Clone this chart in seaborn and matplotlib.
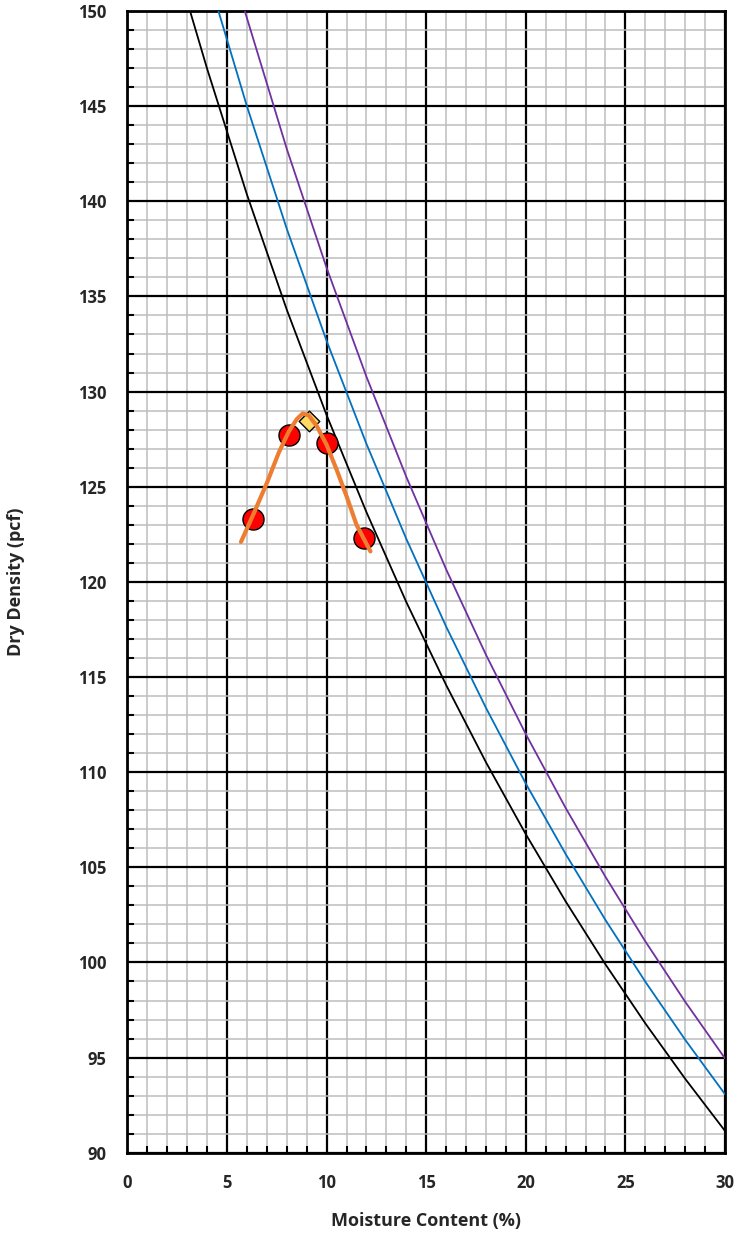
import matplotlib
matplotlib.use("Agg")
import matplotlib.pyplot as plt
from matplotlib.ticker import MultipleLocator
import seaborn as sns

# Zero-air-voids curves (dry density, pcf) at selected moisture contents (%)
zav_260_w = [3.0, 4, 6, 8, 10, 12, 14, 16, 18, 20, 22, 24, 26, 28, 30]
zav_260_d = [150.50, 146.96, 140.35, 134.30, 128.76, 123.66, 118.94, 114.58,
             110.52, 106.74, 103.21, 99.90, 96.80, 93.89, 91.15]

zav_270_w = [4.5, 6, 8, 10, 12, 14, 16, 18, 20, 22, 24, 26, 28, 30]
zav_270_d = [150.23, 144.99, 138.55, 132.66, 127.25, 122.26, 117.65, 113.38,
             109.40, 105.70, 102.23, 98.99, 95.94, 93.08]

zav_280_w = [5.8, 8, 10, 12, 14, 16, 18, 20, 22, 24, 26, 28, 30]
zav_280_d = [150.31, 142.75, 136.50, 130.78, 125.52, 120.66, 116.17, 112.00,
             108.12, 104.50, 101.11, 97.94, 94.96]

# Compaction test points
test_w = [6.3, 8.1, 10.0, 11.9]
test_d = [123.3, 127.7, 127.3, 122.3]

# Fitted compaction curve
fit_w = [5.7, 6.3, 7.0, 7.6, 8.1, 8.5, 8.8, 9.1, 9.5, 10.0, 10.5, 11.0, 11.5, 12.2]
fit_d = [122.1, 123.5, 125.2, 126.8, 127.9, 128.55, 128.85, 128.75, 128.2,
         127.2, 125.9, 124.5, 123.0, 121.6]

# Maximum dry density / optimum moisture
opt_w = [9.1]
opt_d = [128.45]

sns.set_style("white")
plt.rcParams["font.family"] = ["Open Sans", "DejaVu Sans"]

fig = plt.figure(figsize=(7.36, 12.35), dpi=100)
ax = fig.add_axes([0.1732, 0.0666, 0.8118, 0.9245])

ax.set_xlim(0, 30)
ax.set_ylim(90, 150)
ax.xaxis.set_major_locator(MultipleLocator(5))
ax.xaxis.set_minor_locator(MultipleLocator(1))
ax.yaxis.set_major_locator(MultipleLocator(5))
ax.yaxis.set_minor_locator(MultipleLocator(1))
ax.grid(which="minor", color="#BDBDBD", linewidth=1.1, zorder=0)
ax.grid(which="major", color="black", linewidth=1.6, zorder=0.5)
ax.set_axisbelow(True)

curves = [
    (zav_260_w, zav_260_d, "black"),
    (zav_270_w, zav_270_d, "#0070C0"),
    (zav_280_w, zav_280_d, "#7030A0"),
]
for w, d, c in curves:
    sns.lineplot(x=w, y=d, ax=ax, color=c, linewidth=1.3, sort=False,
                 estimator=None, zorder=3)

sns.lineplot(x=fit_w, y=fit_d, ax=ax, color="#ED7D31", linewidth=3.0,
             sort=False, estimator=None, zorder=5)
sns.scatterplot(x=test_w, y=test_d, ax=ax, color="#FF0000", edgecolor="black",
                linewidth=1.0, s=230, zorder=4)
sns.scatterplot(x=opt_w, y=opt_d, ax=ax, marker="D", color="#FFD966",
                edgecolor="black", linewidth=1.0, s=110, zorder=4.5)

for side in ["left", "bottom", "top", "right"]:
    ax.spines[side].set_visible(True)
    ax.spines[side].set_color("black")
    ax.spines[side].set_linewidth(2.0)

ax.tick_params(which="major", length=0, pad=15, labelsize=12)
ax.tick_params(which="minor", direction="in", length=5, width=1.5,
               color="black", bottom=True, left=True, top=False, right=False)
for lab in ax.get_xticklabels() + ax.get_yticklabels():
    lab.set_fontweight("bold")

ax.set_xlabel("Moisture Content (%)", fontsize=13, fontweight="bold", labelpad=15)
ax.set_ylabel("Dry Density (pcf)", fontsize=13, fontweight="bold", labelpad=38)

fig.savefig("out.png", dpi=100)
